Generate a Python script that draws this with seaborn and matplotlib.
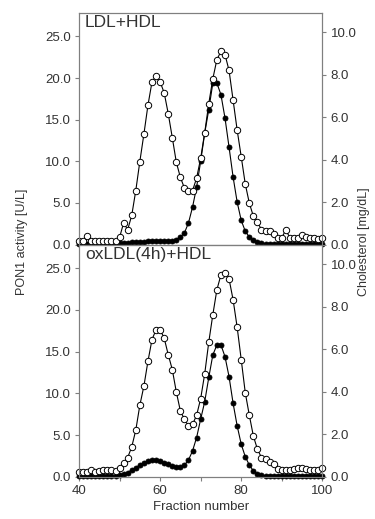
import numpy as np
import matplotlib
matplotlib.use("Agg")
import matplotlib.pyplot as plt
import seaborn as sns
from matplotlib.ticker import FormatStrFormatter, MultipleLocator

sns.set_style("ticks")
plt.rcParams["font.family"] = ["Liberation Sans", "DejaVu Sans"]

# fraction numbers 40..100
fractions = np.arange(40, 101)

# PON1 activity [U/L] (filled circles)
pon1_ldl_hdl = [0.05, 0.05, 0.05, 0.05, 0.05, 0.05, 0.05, 0.05, 0.1, 0.1,
                0.15, 0.2, 0.2, 0.25, 0.3, 0.3, 0.35, 0.4, 0.4, 0.4,
                0.4, 0.4, 0.4, 0.45, 0.6, 0.9, 1.4, 2.6, 4.5, 6.9,
                10.0, 13.4, 16.2, 19.4, 19.4, 18.0, 15.2, 11.7, 8.1, 5.1,
                2.9, 1.6, 0.9, 0.5, 0.3, 0.2, 0.1, 0.1, 0.1, 0.1,
                0.1, 0.1, 0.1, 0.1, 0.1, 0.1, 0.1, 0.1, 0.1, 0.1, 0.1]
pon1_oxldl_hdl = [0.05, 0.05, 0.05, 0.05, 0.05, 0.05, 0.05, 0.05, 0.05, 0.05,
                  0.15, 0.3, 0.5, 0.8, 1.1, 1.4, 1.7, 1.9, 2.0, 2.0,
                  1.9, 1.7, 1.5, 1.3, 1.2, 1.2, 1.4, 2.0, 3.1, 4.7,
                  6.9, 9.0, 11.9, 14.6, 15.8, 15.8, 14.4, 12.0, 8.8, 6.1,
                  3.9, 2.4, 1.4, 0.7, 0.3, 0.15, 0.1, 0.1, 0.1, 0.1,
                  0.1, 0.1, 0.1, 0.1, 0.1, 0.1, 0.1, 0.1, 0.1, 0.1, 0.1]

# Cholesterol [mg/dL] (open circles)
chol_ldl_hdl = [0.17, 0.17, 0.42, 0.17, 0.17, 0.17, 0.17, 0.17, 0.17, 0.17,
                0.33, 1.02, 0.70, 1.37, 2.54, 3.91, 5.20, 6.56, 7.66, 7.93,
                7.66, 7.15, 6.17, 5.04, 3.87, 3.16, 2.66, 2.54, 2.54, 3.13,
                4.06, 5.27, 6.64, 7.81, 8.71, 9.10, 8.95, 8.20, 6.80, 5.39,
                4.14, 2.85, 1.95, 1.33, 1.05, 0.70, 0.63, 0.63, 0.51, 0.31,
                0.31, 0.70, 0.31, 0.31, 0.31, 0.43, 0.35, 0.31, 0.31, 0.27, 0.31]
chol_oxldl_hdl = [0.23, 0.23, 0.23, 0.31, 0.23, 0.27, 0.31, 0.31, 0.31, 0.25,
                  0.43, 0.66, 0.90, 1.40, 2.19, 3.36, 4.26, 5.43, 6.45, 6.91,
                  6.91, 6.52, 5.74, 5.04, 3.98, 3.09, 2.70, 2.38, 2.46, 2.89,
                  3.67, 4.84, 6.33, 7.62, 8.79, 9.49, 9.57, 9.30, 8.32, 7.03,
                  5.51, 3.95, 2.89, 1.91, 1.29, 0.90, 0.82, 0.70, 0.59, 0.35,
                  0.31, 0.31, 0.31, 0.35, 0.39, 0.39, 0.35, 0.31, 0.31, 0.31, 0.39]

panel_titles = ["LDL+HDL", "oxLDL(4h)+HDL"]

grey = "#7f7f7f"
txt = "#333333"

fig = plt.figure(figsize=(3.75, 5.19), dpi=100)
ax_top = fig.add_axes([0.2107, 0.5289, 0.6488, 0.4466])
ax_bot = fig.add_axes([0.2107, 0.0815, 0.6488, 0.4474])

panels = [(ax_top, pon1_ldl_hdl, chol_ldl_hdl), (ax_bot, pon1_oxldl_hdl, chol_oxldl_hdl)]

for i, (ax, pon, chol) in enumerate(panels):
    ax2 = ax.twinx()
    sns.lineplot(x=fractions, y=pon, ax=ax, color="black", lw=0.8, marker="o",
                 ms=3.6, mfc="black", mec="black", mew=0.6, clip_on=False)
    sns.lineplot(x=fractions, y=chol, ax=ax2, color="black", lw=0.8, marker="o",
                 ms=4.6, mfc="white", mec="black", mew=0.7, clip_on=False)

    ax.set_xlim(40, 100)
    ax.set_ylim(0, 27.85)
    ax2.set_ylim(0, 10.92)
    ax.yaxis.set_major_locator(MultipleLocator(5))
    ax2.yaxis.set_major_locator(MultipleLocator(2))
    ax.yaxis.set_major_formatter(FormatStrFormatter("%.1f"))
    ax2.yaxis.set_major_formatter(FormatStrFormatter("%.1f"))
    ax.set_ylabel("")
    ax2.set_ylabel("")
    ax.set_xlabel("")

    for a in (ax, ax2):
        for s in a.spines.values():
            s.set_color(grey)
            s.set_linewidth(0.8)
        a.tick_params(axis="both", colors=grey, labelcolor=txt, labelsize=9.5,
                      length=3, width=0.8, direction="out", pad=3)
    ax2.spines["top"].set_visible(True)
    ax.spines["top"].set_visible(True)
    ax.spines["right"].set_visible(True)

    ax.text(0.025, 0.99, panel_titles[i], transform=ax.transAxes, ha="left",
            va="top", fontsize=12.5, color=txt)

    if i == 0:
        ax.tick_params(axis="x", bottom=False, labelbottom=False)
    else:
        ax.xaxis.set_major_locator(MultipleLocator(20))
        ax.xaxis.set_minor_locator(MultipleLocator(10))
        ax.tick_params(axis="x", which="minor", length=3, width=0.8, colors=grey)
        ax.set_xlabel("Fraction number", fontsize=9.5, color=txt, labelpad=3)

fig.text(0.058, 1 - 242 / 519, "PON1 activity [U/L]", rotation=90, ha="center",
         va="center", fontsize=9, color=txt)
fig.text(0.972, 1 - 242 / 519, "Cholesterol [mg/dL]", rotation=90, ha="center",
         va="center", fontsize=9, color=txt)

fig.savefig("out.png", dpi=100)
